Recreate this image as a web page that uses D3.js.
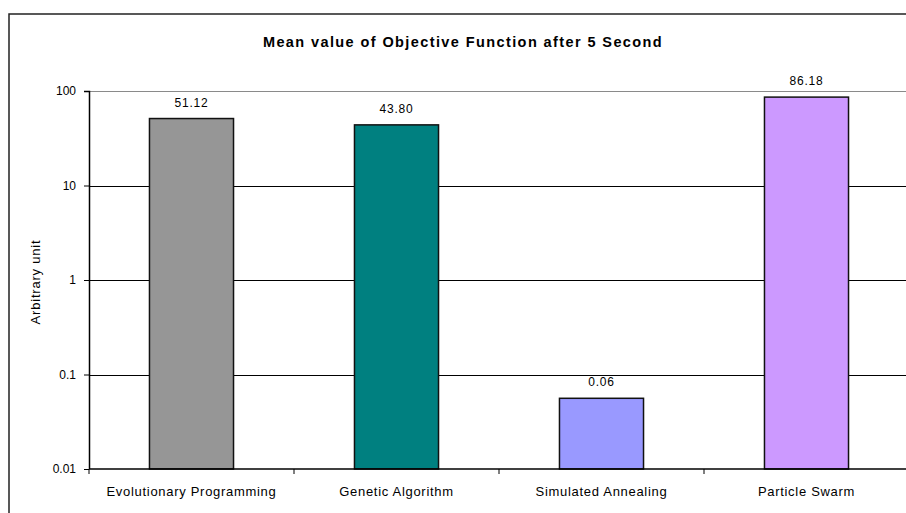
<!DOCTYPE html>
<html lang="en">
<head>
<meta charset="utf-8">
<title>Mean value of Objective Function after 5 Second</title>
<script src="https://d3js.org/d3.v7.min.js"></script>
<style>
    body { margin: 0; background: white; }
    svg { display: block; font-family: Arial, "Liberation Sans", sans-serif; }
</style>
</head>
<body>
<svg id="chart" width="906" height="513"></svg>
<script>
// data
var algorithms = ["Evolutionary Programming", "Genetic Algorithm", "Simulated Annealing", "Particle Swarm"];
var meanValues = [51.12, 43.80, 0.056, 86.18];
var barColors = ["#969696", "#008080", "#9999ff", "#cc99ff"];
var yTicks = [0.01, 0.1, 1, 10, 100];
var yTickLabels = ["0.01", "0.1", "1", "10", "100"];

var svg = d3.select("#chart");
var margin = { top: 91, left: 89, right: -3, bottom: 44 };
var width = 906 - margin.left - margin.right;
var height = 513 - margin.top - margin.bottom;

// outer chart frame (runs off the right and bottom edge)
svg.append("rect")
    .attr("x", 9).attr("y", 14)
    .attr("width", 910).attr("height", 520)
    .attr("fill", "none")
    .attr("stroke", "#222")
    .attr("stroke-width", 1.5);

svg.append("text")
    .attr("x", 463).attr("y", 47)
    .attr("text-anchor", "middle")
    .attr("font-weight", "bold")
    .attr("font-size", "14.5px")
    .attr("letter-spacing", "1.4px")
    .text("Mean value of Objective Function after 5 Second");

var g = svg.append("g").attr("transform", "translate(" + margin.left + "," + margin.top + ")");

var x = d3.scaleBand().domain(algorithms).range([0, width]).paddingInner(0.59).paddingOuter(0.295);
var y = d3.scaleLog().domain([0.01, 100]).range([height, 0]);

// gridlines
g.selectAll(".grid")
    .data(yTicks.slice(1))
    .enter().append("line")
    .attr("class", "grid")
    .attr("x1", 0).attr("x2", width)
    .attr("y1", function(d) { return Math.round(y(d)) + 0.5; })
    .attr("y2", function(d) { return Math.round(y(d)) + 0.5; })
    .attr("stroke", function(d) { return d === 100 ? "#8a8a8a" : "#000"; })
    .attr("stroke-width", 1);

// bars
g.selectAll(".bar")
    .data(meanValues)
    .enter().append("rect")
    .attr("class", "bar")
    .attr("x", function(d, i) { return x(algorithms[i]); })
    .attr("y", function(d) { return y(d); })
    .attr("width", x.bandwidth())
    .attr("height", function(d) { return height - y(d); })
    .attr("fill", function(d, i) { return barColors[i]; })
    .attr("stroke", "#111")
    .attr("stroke-width", 1.5);

// value labels
g.selectAll(".val")
    .data(meanValues)
    .enter().append("text")
    .attr("class", "val")
    .attr("x", function(d, i) { return x(algorithms[i]) + x.bandwidth() / 2; })
    .attr("y", function(d) { return y(d) - 12; })
    .attr("text-anchor", "middle")
    .attr("font-size", "12px")
    .attr("letter-spacing", "0.8px")
    .text(function(d) { return d.toFixed(2); });

// y axis
var yAxis = g.append("g")
    .call(d3.axisLeft(y).tickValues(yTicks).tickFormat(function(d, i) { return yTickLabels[i]; }).tickSize(5).tickPadding(8));
yAxis.select(".domain").attr("stroke", "#000").attr("stroke-width", 1.5).attr("d", "M-5,0.5H0.5V" + height);
yAxis.selectAll("text").attr("font-size", "12px").attr("font-family", "Arial, 'Liberation Sans', sans-serif").attr("fill", "#000");
yAxis.selectAll(".tick line").attr("stroke", "#000");

// x axis with ticks on category boundaries
var xAxis = g.append("g").attr("transform", "translate(0," + height + ")");
xAxis.append("line").attr("x1", 0).attr("x2", width).attr("stroke", "#000").attr("stroke-width", 1.5);
xAxis.selectAll(".bnd")
    .data(algorithms)
    .enter().append("line")
    .attr("class", "bnd")
    .attr("x1", function(d) { return x(d) - x.step() * x.paddingInner() / 2; })
    .attr("x2", function(d) { return x(d) - x.step() * x.paddingInner() / 2; })
    .attr("y1", 0).attr("y2", 5)
    .attr("stroke", "#000");
xAxis.selectAll(".cat")
    .data(algorithms)
    .enter().append("text")
    .attr("class", "cat")
    .attr("x", function(d) { return x(d) + x.bandwidth() / 2; })
    .attr("y", 27)
    .attr("text-anchor", "middle")
    .attr("font-size", "13px")
    .attr("letter-spacing", "0.7px")
    .text(function(d) { return d; });

svg.append("text")
    .attr("transform", "translate(40,282) rotate(-90)")
    .attr("text-anchor", "middle")
    .attr("font-size", "13px")
    .attr("letter-spacing", "0.8px")
    .text("Arbitrary unit");
</script>
</body>
</html>
